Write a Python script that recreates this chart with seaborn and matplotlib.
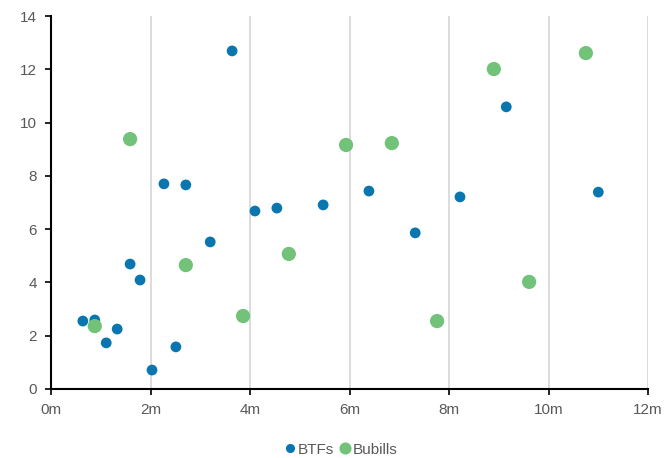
import pandas as pd
import matplotlib.pyplot as plt
import seaborn as sns

# Dados (x em milhões, y)
btfs_x = [0.64, 0.88, 1.11, 1.33, 1.59, 1.79, 2.03, 2.27, 2.51, 2.71,
          3.20, 3.64, 4.10, 4.54, 5.47, 6.39, 7.32, 8.22, 9.15, 11.0]
btfs_y = [2.55, 2.59, 1.73, 2.25, 4.69, 4.09, 0.71, 7.70, 1.58, 7.66,
          5.52, 12.69, 6.68, 6.79, 6.91, 7.43, 5.86, 7.21, 10.59, 7.39]

bubills_x = [0.88, 1.59, 2.71, 3.86, 4.78, 5.93, 6.85, 7.76, 8.90, 9.61, 10.75]
bubills_y = [2.36, 9.38, 4.65, 2.74, 5.07, 9.16, 9.23, 2.55, 12.01, 4.02, 12.61]

series_names = ["BTFs", "Bubills"]
x_ticks = [0, 2, 4, 6, 8, 10, 12]
x_labels = ["0m", "2m", "4m", "6m", "8m", "10m", "12m"]

df = pd.concat([
    pd.DataFrame({"x": btfs_x, "y": btfs_y, "serie": "BTFs"}),
    pd.DataFrame({"x": bubills_x, "y": bubills_y, "serie": "Bubills"}),
], ignore_index=True)

sns.set_style("white")
plt.rcParams["font.family"] = ["Liberation Sans", "DejaVu Sans"]

fig = plt.figure(figsize=(6.64, 4.58), dpi=100)
ax = fig.add_axes([0.0768, 0.1507, 0.8992, 0.8143])

cores = {"BTFs": "#0a76b0", "Bubills": "#72c27a"}
tamanhos = {"BTFs": 60, "Bubills": 105}

sns.scatterplot(data=df, x="x", y="y", hue="serie", size="serie",
                hue_order=series_names, size_order=series_names,
                palette=cores, sizes=tamanhos, linewidth=0, alpha=1,
                ax=ax, zorder=3)

ax.set_xlim(0, 12)
ax.set_ylim(0, 14)
ax.set_xticks(x_ticks)
ax.set_xticklabels(x_labels)
ax.set_yticks(range(0, 15, 2))
ax.set_xlabel("")
ax.set_ylabel("")

ax.grid(axis="x", color="#d9d9d9", linewidth=1.3, zorder=0)
ax.grid(axis="y", visible=False)
ax.set_axisbelow(True)

for s in ["top", "right"]:
    ax.spines[s].set_visible(False)
for s in ["left", "bottom"]:
    ax.spines[s].set_color("black")
    ax.spines[s].set_linewidth(1.5)

ax.tick_params(axis="both", which="major", direction="out", length=4,
               width=1.2, color="black", labelsize=11, labelcolor="#595959",
               pad=6, left=True, bottom=True)

ax.legend(loc="upper center", bbox_to_anchor=(0.485, -0.128), ncol=2,
          frameon=False, fontsize=11, labelcolor="#595959", markerscale=0.85,
          handlelength=0.8, handletextpad=0.1, columnspacing=0.3,
          borderaxespad=0)

fig.savefig("out.png", dpi=100)
